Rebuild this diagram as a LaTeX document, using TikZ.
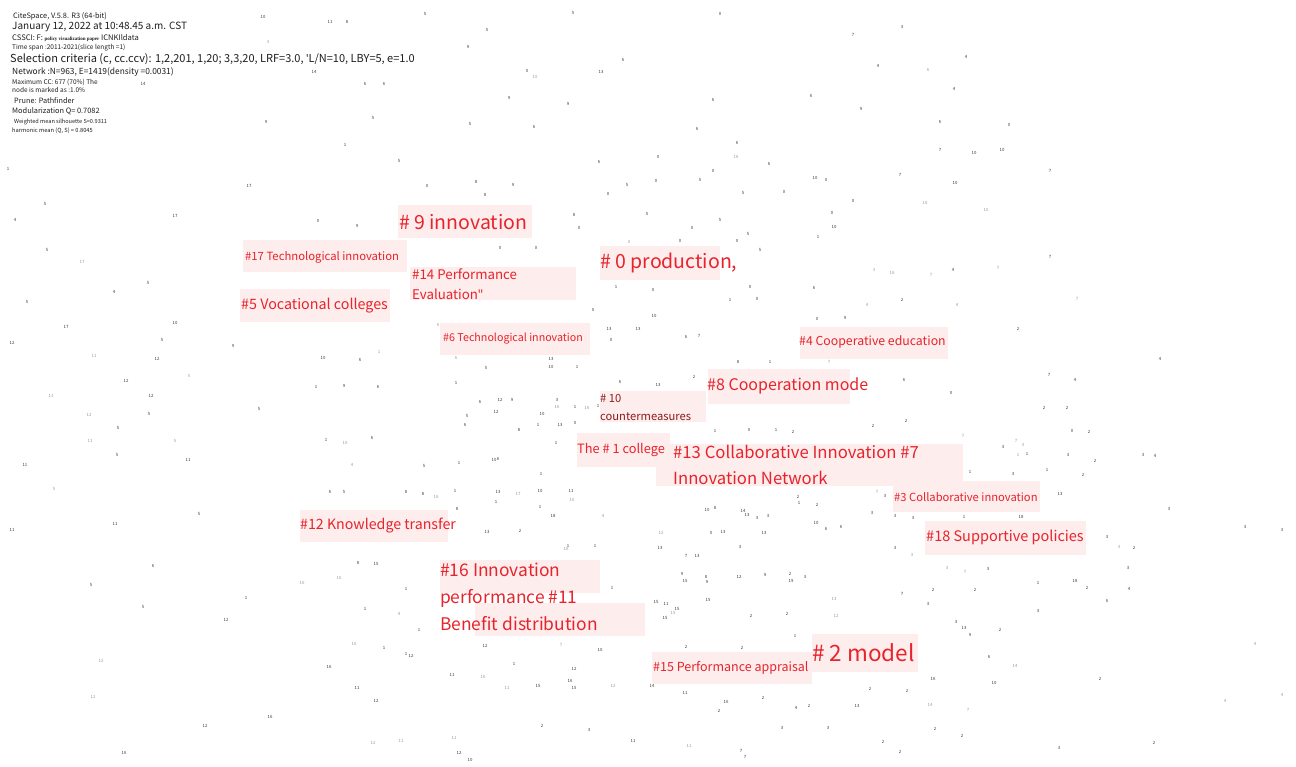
\documentclass[tikz,border=0pt]{standalone}
\usepackage{fontspec}
\setmainfont{Noto Sans CJK SC}
\newfontfamily\tinyserif{Liberation Serif}
\newfontfamily\qf{Noto Sans}
\definecolor{lblred}{HTML}{E8232B}
\definecolor{darkred}{HTML}{8E1C1C}
\definecolor{pinkbg}{HTML}{FDEDED}
\definecolor{hdr}{HTML}{1E1E1E}
\definecolor{numdark}{HTML}{3A3A3A}
\definecolor{numlight}{HTML}{9A9A9A}
\tikzset{
  pinkbox/.style={fill=pinkbg, draw=none, inner sep=0pt},
  lbl/.style={text=lblred, inner sep=0pt, anchor=west, align=left},
  hline/.style={text=hdr, inner sep=0pt, anchor=west},
  num/.style={text=numdark, inner sep=0pt, font=\fontsize{4.3}{5}\selectfont},
  numl/.style={text=numlight, inner sep=0pt, font=\fontsize{4.3}{5}\selectfont},
}
\newcommand{\fs}[2]{\fontsize{#1}{#2}\selectfont}
\begin{document}
\begin{tikzpicture}[x=1pt,y=-1pt]
\fill[white] (0,0) rectangle (1296,767);
\useasboundingbox (0,0) rectangle (1296,767);

% ---- header ----
\node[hline, font=\fs{7.4}{8}] (h1) at (13,16) {CiteSpace, V.5.8. R3 (64-bit)};
\node[hline, font=\fs{10}{11}] (h2) at (12,27) {January 12, 2022 at 10:48.45 a.m. CST};
\node[hline, font=\fs{7.6}{9}] (h3) at (12,38.5) {CSSCI: F: {\tinyserif\bfseries\fontsize{5}{6}\selectfont policy visualization paper} ICNKIldata};
\node[hline, font=\fs{6.5}{7.5}] (h4) at (12,47.5) {Time span :2011-2021(slice length =1)};
\node[hline, font=\fs{11}{13}] (h5) at (10,59) {Selection criteria (c, cc.ccv): 1,2,201, 1,20; 3,3,20, LRF=3.0, {\qf'}L/N=10, LBY=5, e=1.0};
\node[hline, font=\fs{8.4}{9}] (h6) at (12,72) {Network :N=963, E=1419(density =0.0031)};
\node[hline, font=\fs{6.5}{7}] (h7) at (12,82) {Maximum CC: 677 (70\%) The};
\node[hline, font=\fs{6.5}{7}] (h8) at (12,90) {node is marked as :1.0\%};
\node[hline, font=\fs{7.3}{8}] (h9) at (14,101) {Prune: Pathfinder};
\node[hline, font=\fs{7.4}{8}] (h10) at (12,111) {Modularization Q= 0.7082};
\node[hline, font=\fs{5.6}{6.5}] (h11) at (14,122) {Weighted mean silhouette S=0.9311};
\node[hline, font=\fs{5.7}{6.5}] (h12) at (12,131) {harmonic mean (Q, S) = 0.8045};

% ---- scattered node numbers ----
\foreach \x/\y/\t [count=\i] in {
263/17/10,330/22/11,347/22/8,425/14/5,573/13/5,720/14/0,487/30/5,468/47/9,853/35/7,902/27/3,
314/72/14,365/84/6,384/84/6,527/71/0,623/60/6,601/72/13,878/66/4,966/57/4,143/84/14,
509/98/9,568/104/9,713/100/6,811/96/6,954/89/4,861/109/9,266/122/9,373/118/5,470/124/5,534/127/6,
697/129/6,940/122/6,1009/125/0,345/145/1,737/143/6,940/150/7,974/153/10,1002/150/10,399/161/5,
658/157/0,599/162/6,713/171/0,769/164/6,8/169/1,427/186/0,476/182/8,513/185/9,627/185/5,
656/181/0,700/180/5,815/178/10,826/180/0,900/175/7,955/183/10,1050/171/7,249/186/17,485/195/8,608/194/0,
743/193/5,784/192/0,853/201/0,45/204/5,175/216/17,15/220/4,318/221/0,357/226/9,574/215/8,647/214/5,
720/220/5,832/213/0,834/227/10,579/228/0,692/228/0,748/234/5,818/237/1,47/250/5,680/241/0,737/241/0,
500/248/0,536/248/0,760/250/5,1050/257/7,953/270/4,616/287/1,653/290/0,750/287/0,814/288/6,114/292/4,
148/283/5,902/300/2,27/302/5,593/310/0,654/316/10,730/300/1,757/299/0,817/319/0,845/318/9,175/323/10,
66/327/17,609/329/13,638/329/13,611/340/0,699/336/7,686/337/6,447/339/0,1018/329/2,162/340/5,233/346/9,
12/343/12,157/359/12,323/358/10,360/360/6,486/368/5,551/367/10,551/359/13,577/367/1,738/362/8,770/362/1,
1160/359/4,126/381/12,316/387/1,344/386/9,378/387/6,456/383/1,620/382/6,658/385/13,694/377/2,745/378/9,
831/388/0,1049/375/7,1075/380/4,904/380/6,951/393/0,151/396/12,480/402/6,500/400/12,512/400/9,557/400/3,
149/414/5,259/409/5,496/412/12,542/414/10,575/407/1,598/406/1,467/416/5,1044/408/2,1067/408/2,906/421/2,
465/425/6,519/430/8,538/425/1,560/425/13,575/423/0,715/431/1,749/430/0,776/430/1,793/432/2,873/426/2,
1072/431/0,1089/432/2,118/428/5,326/440/1,372/438/6,556/443/1,1027/454/1,1143/455/3,1155/456/4,117/455/5,
188/460/11,498/459/6,494/460/10,612/461/6,1068/455/3,1095/461/2,25/465/11,424/466/5,459/463/1,633/462/10,
916/446/3,1003/447/3,970/472/1,1013/474/3,1047/470/1,1083/475/2,541/474/1,676/478/1,330/492/6,344/492/5,
406/492/8,423/494/8,455/491/1,498/492/13,540/491/10,571/491/11,540/507/1,457/509/8,496/502/1,885/496/3,
1060/494/13,1169/509/3,798/497/2,799/503/1,817/505/2,707/510/10,715/508/8,743/511/14,747/515/13,757/518/3,
768/516/3,816/523/10,826/529/6,841/527/6,872/513/3,895/516/3,913/518/3,964/517/1,1021/517/18,199/514/5,
115/524/11,12/530/11,487/532/13,520/531/2,553/516/18,711/533/0,723/532/13,764/533/13,568/546/1,595/546/1,
660/548/13,686/556/7,697/556/13,740/547/3,895/548/3,1107/537/3,1134/548/2,1245/527/3,1282/530/3,153/566/6,
358/563/8,376/564/15,406/589/1,612/588/1,682/574/9,685/581/15,706/577/8,707/582/9,739/577/12,765/575/9,
790/574/2,791/581/19,805/577/3,988/569/3,1075/581/18,1128/568/3,91/585/5,246/598/1,656/602/15,666/604/11,
677/609/15,665/618/15,708/600/15,751/616/2,787/614/2,902/594/7,933/590/2,928/604/3,975/590/2,1038/583/1,
1087/588/2,1107/601/6,1129/589/4,143/607/5,365/609/1,226/620/12,419/630/1,795/636/1,956/622/3,964/628/13,
970/635/9,1000/630/2,1038/611/3,384/648/1,406/654/1,411/656/12,485/646/12,600/650/10,686/647/2,742/648/2,
989/657/6,329/667/16,574/669/12,514/664/1,452/675/11,538/686/15,570/681/16,574/688/15,652/686/14,
685/693/11,357/688/11,376/701/12,870/689/2,907/691/2,933/679/16,994/683/10,726/702/16,763/698/2,796/708/4,
809/706/2,857/706/13,719/711/2,205/726/12,270/717/16,542/726/2,589/730/3,782/728/3,828/728/3,935/729/2,
962/736/2,1154/743/2,883/742/2,633/741/11,741/751/7,124/753/16,459/753/12,470/760/10,745/757/7,900/752/2,
1059/748/3,1100/679/2
} \node[num] (n\i) at (\x,\y) {\t};

\foreach \x/\y/\t [count=\i] in {
268/42/3,535/77/10,928/70/6,736/157/16,925/203/16,986/210/16,82/262/17,629/242/0,874/270/3,892/273/16,
931/275/7,998/268/7,1077/299/7,867/305/4,957/305/4,438/325/6,94/356/11,379/352/1,456/358/6,829/362/7,
189/376/5,51/396/11,89/415/12,557/407/16,587/408/16,963/436/7,1016/441/7,1023/445/3,90/441/11,175/441/5,
345/443/10,352/465/4,663/466/16,1018/455/1,54/489/5,518/494/17,572/500/16,436/497/16,877/492/7,603/516/4,
661/533/12,566/549/16,947/568/3,965/572/7,912/555/3,1119/547/3,339/578/16,302/583/16,834/599/13,836/616/12,
673/613/15,399/614/4,1255/644/4,101/661/12,354/644/16,561/645/7,1015/666/14,483/677/16,507/688/11,613/686/12,
93/697/12,930/705/14,968/710/7,1225/701/4,1282/695/4,373/743/12,401/741/11,454/738/11,689/746/11
} \node[numl] (m\i) at (\x,\y) {\t};

% ---- cluster label backgrounds ----
\node[pinkbox, minimum width=134pt, minimum height=33pt] (b9) at (465,221.5) {};
\node[pinkbox, minimum width=164pt, minimum height=32pt] (b17) at (325,256) {};
\node[pinkbox, minimum width=166pt, minimum height=33pt] (b14) at (493,283.5) {};
\node[pinkbox, minimum width=120pt, minimum height=34pt] (b0) at (660,263) {};
\node[pinkbox, minimum width=150pt, minimum height=33pt] (b5) at (315,305.5) {};
\node[pinkbox, minimum width=150pt, minimum height=32pt] (b6) at (515,339) {};
\node[pinkbox, minimum width=148pt, minimum height=32pt] (b4) at (874,343) {};
\node[pinkbox, minimum width=142pt, minimum height=35pt] (b8) at (779,386.5) {};
\node[pinkbox, minimum width=106pt, minimum height=31pt] (b10) at (653,406.5) {};
\node[pinkbox, minimum width=93pt, minimum height=34pt] (b1) at (623.5,450) {};
\node[pinkbox, minimum width=307pt, minimum height=42pt] (b13) at (809.5,465) {};
\node[pinkbox, minimum width=147pt, minimum height=31pt] (b3) at (966.5,496.5) {};
\node[pinkbox, minimum width=161pt, minimum height=34pt] (b18) at (1005.5,538) {};
\node[pinkbox, minimum width=148pt, minimum height=32pt] (b12) at (374,526) {};
\node[pinkbox, minimum width=160pt, minimum height=33pt] (b16) at (520,576.5) {};
\node[pinkbox, minimum width=170pt, minimum height=33pt] (b11) at (560,619.5) {};
\node[pinkbox, minimum width=160pt, minimum height=32pt] (b15) at (732,668) {};
\node[pinkbox, minimum width=106pt, minimum height=38pt] (b2) at (865,653) {};

% ---- cluster labels ----
\node[lbl, font=\fs{19.5}{23}] (l9) at (399,222) {\# 9 innovation};
\node[lbl, font=\fs{11.3}{14}] (l17) at (245,257) {\#17 Technological innovation};
\node[lbl, font=\fs{13.3}{20}] (l14) at (412,284.5) {\#14 Performance\\Evaluation{\qf"}};
\node[lbl, font=\fs{19.5}{23}] (l0) at (600,262.5) {\# 0 production,};
\node[lbl, font=\fs{14.3}{17}] (l5) at (241,305.5) {\#5 Vocational colleges};
\node[lbl, font=\fs{10.7}{13}] (l6) at (443,339) {\#6 Technological innovation};
\node[lbl, font=\fs{12.3}{14}] (l4) at (799,342.5) {\#4 Cooperative education};
\node[lbl, font=\fs{16}{19}] (l8) at (707,385.5) {\#8 Cooperation mode};
\node[lbl, text=darkred, font=\fs{11.2}{18}] (l10) at (600,407.5) {\# 10\\countermeasures};
\node[lbl, font=\fs{12.8}{14}] (l1) at (577,450) {The \# 1 college};
\node[lbl, font=\fs{16.7}{26}] (l13) at (673,464.5) {\#13 Collaborative Innovation \#7\\Innovation Network};
\node[lbl, font=\fs{11.2}{14}] (l3) at (894,497.5) {\#3 Collaborative innovation};
\node[lbl, font=\fs{14.5}{17}] (l18) at (926,537.5) {\#18 Supportive policies};
\node[lbl, font=\fs{14.2}{17}] (l12) at (300,525.5) {\#12 Knowledge transfer};
\node[lbl, font=\fs{17.4}{27}] (l16) at (440,596.5) {\#16 Innovation\\performance \#11\\Benefit distribution};
\node[lbl, font=\fs{12.5}{15}] (l15) at (653,667.5) {\#15 Performance appraisal};
\node[lbl, font=\fs{22.5}{26}] (l2) at (812,652.5) {\# 2 model};
\end{tikzpicture}
\end{document}
